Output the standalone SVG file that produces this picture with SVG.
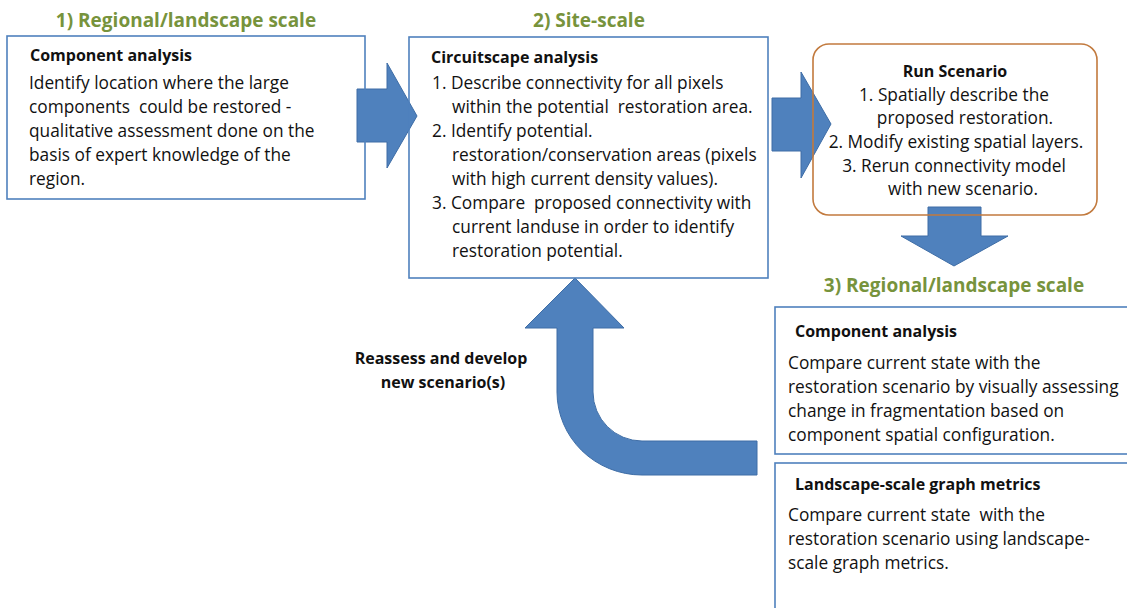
<svg xmlns="http://www.w3.org/2000/svg" width="1127" height="608" viewBox="0 0 1127 608">
<style>
  .title{font-family:"Open Sans","Liberation Sans",sans-serif;font-weight:bold;font-size:19px;fill:#77933C;text-anchor:middle}
  .hd{font-family:"Open Sans","Liberation Sans",sans-serif;font-weight:bold;font-size:16px;fill:#111}
  .tx{font-family:"Open Sans","Liberation Sans",sans-serif;font-size:17.3px;fill:#111;white-space:pre}
  .c{text-anchor:middle}
  .box{fill:none;stroke:#4F81BD;stroke-width:1.6}
  .rbox{fill:none;stroke:#C27A3E;stroke-width:1.6}
  .arr{fill:#4F81BD;stroke:#3E6DA6;stroke-width:1}
</style>
<rect width="1127" height="608" fill="#fff"/>
<g id="connectors">
  <path class="arr" d="M357,89 H387 V63 L417,116 L387,168 V142 H357 Z"/>
  <path class="arr" d="M772,98 H801 V72 L831,124 L801,178 V151 H772 Z"/>
  <path class="arr" d="M928,207 H981 V236 H1008 L954,266 L901,236 H928 Z"/>
  <path class="arr" d="M757,441 H642 A49,49 0 0 1 593,392 V328 H624 L575,278 L525,328 H557 V392 A85,83 0 0 0 642,475 H757 Z"/>
</g>
<text class="title" x="186" y="27">1) Regional/landscape scale</text>
<text class="title" x="589" y="27">2) Site-scale</text>
<text class="title" x="954" y="292">3) Regional/landscape scale</text>
<g id="n1">
  <rect class="box" x="7" y="36" width="358" height="163"/>
  <text class="hd" x="30" y="61">Component analysis</text>
  <text class="tx" x="29" y="89" xml:space="preserve">Identify location where the large</text>
  <text class="tx" x="29" y="113" xml:space="preserve">components  could be restored -</text>
  <text class="tx" x="29" y="137">qualitative assessment done on the</text>
  <text class="tx" x="29" y="161">basis of expert knowledge of the</text>
  <text class="tx" x="29" y="185">region.</text>
</g>
<g id="n2">
  <rect class="box" x="409" y="37" width="359" height="241"/>
  <text class="hd" x="431" y="63">Circuitscape analysis</text>
  <text class="tx" x="432" y="89">1. Describe connectivity for all pixels</text>
  <text class="tx" x="452" y="113" xml:space="preserve">within the potential  restoration area.</text>
  <text class="tx" x="432" y="137">2. Identify potential.</text>
  <text class="tx" x="452" y="161">restoration/conservation areas (pixels</text>
  <text class="tx" x="452" y="185">with high current density values).</text>
  <text class="tx" x="432" y="209" xml:space="preserve">3. Compare  proposed connectivity with</text>
  <text class="tx" x="452" y="233">current landuse in order to identify</text>
  <text class="tx" x="452" y="257">restoration potential.</text>
</g>
<g id="n3">
  <rect class="rbox" x="813" y="44" width="284" height="171" rx="16"/>
  <text class="hd c" x="955" y="77">Run Scenario</text>
  <text class="tx c" x="954" y="101">1. Spatially describe the</text>
  <text class="tx c" x="965" y="124">proposed restoration.</text>
  <text class="tx c" x="956" y="148">2. Modify existing spatial layers.</text>
  <text class="tx c" x="954" y="172">3. Rerun connectivity model</text>
  <text class="tx c" x="963" y="195">with new scenario.</text>
</g>
<g id="n4">
  <rect class="box" x="775" y="307" width="360" height="147"/>
  <text class="hd" x="795" y="337">Component analysis</text>
  <text class="tx" x="788" y="369">Compare current state with the</text>
  <text class="tx" x="788" y="393">restoration scenario by visually assessing</text>
  <text class="tx" x="788" y="417">change in fragmentation based on</text>
  <text class="tx" x="788" y="441">component spatial configuration.</text>
</g>
<g id="n5">
  <rect class="box" x="775" y="463" width="360" height="160"/>
  <text class="hd" x="795" y="490">Landscape-scale graph metrics</text>
  <text class="tx" x="788" y="521" xml:space="preserve">Compare current state  with the</text>
  <text class="tx" x="788" y="545">restoration scenario using landscape-</text>
  <text class="tx" x="788" y="569">scale graph metrics.</text>
</g>
<g id="label">
  <text class="hd c" x="441" y="364">Reassess and develop</text>
  <text class="hd c" x="443" y="388">new scenario(s)</text>
</g>
</svg>
